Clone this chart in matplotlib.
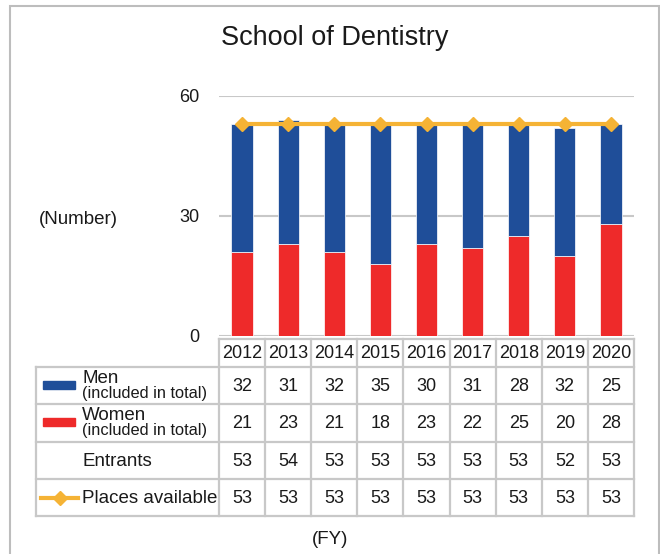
import matplotlib
matplotlib.use("Agg")
import matplotlib.pyplot as plt
from matplotlib.patches import Rectangle
from matplotlib.lines import Line2D

plt.rcParams['font.family'] = ['Liberation Sans', 'DejaVu Sans']

years = [2012, 2013, 2014, 2015, 2016, 2017, 2018, 2019, 2020]
men = [32, 31, 32, 35, 30, 31, 28, 32, 25]
women = [21, 23, 21, 18, 23, 22, 25, 20, 28]
entrants = [53, 54, 53, 53, 53, 53, 53, 52, 53]
places = [53, 53, 53, 53, 53, 53, 53, 53, 53]

blue = '#1f4e99'
red = '#ee2a2a'
orange = '#f5b335'
grey = '#c8c8c8'

W, H = 660, 554
fig = plt.figure(figsize=(W / 100, H / 100), dpi=100)

def box(l, t, r, b):
    return [l / W, 1 - b / H, (r - l) / W, (b - t) / H]

# outer frame (bottom edge runs off the canvas)
fig.patches.append(Rectangle((10 / W, -0.05), 649 / W, 1.05 - 6 / H,
                             transform=fig.transFigure, fill=False,
                             edgecolor='#bdbdbd', lw=1.5))

fig.text(335 / W, 1 - 38 / H, 'School of Dentistry', ha='center', va='center',
         fontsize=19.5, color='#1a1a1a')

# main chart
ax = fig.add_axes(box(219, 96, 634, 336))
x = range(len(years))
ax.bar(x, women, width=0.46, color=red, edgecolor='white', linewidth=0.5, zorder=2)
ax.bar(x, men, bottom=women, width=0.46, color=blue, edgecolor='white', linewidth=0.5, zorder=2)
ax.plot(x, places, color=orange, lw=3, marker='D', markersize=7, zorder=3)
ax.set_xlim(-0.5, len(years) - 0.5)
ax.set_ylim(0, 60)
ax.set_yticks([0, 30, 60])
ax.yaxis.grid(True, color=grey, lw=1.5, zorder=0)
ax.set_xticks([])
for s in ax.spines.values():
    s.set_visible(False)
ax.tick_params(axis='y', length=0, pad=14, labelsize=13, labelcolor='#1a1a1a')
fig.text(78 / W, 1 - 220 / H, '(Number)', ha='center', va='center',
         fontsize=13.5, color='#1a1a1a')

# data table
unit = 415 / len(years)
x0 = -0.5 - (219 - 36) / unit
tab = fig.add_axes(box(36, 339, 634, 516))
tab.set_xlim(x0, len(years) - 0.5)
tab.set_ylim(177, 0)
tab.axis('off')
rows = [0, 28, 65, 103, 140, 177]
lk = dict(color=grey, lw=1.6, clip_on=False)
tab.plot([-0.5, len(years) - 0.5], [0, 0], **lk)
for yb in rows[1:]:
    tab.plot([x0, len(years) - 0.5], [yb, yb], **lk)
tab.plot([x0, x0], [rows[1], rows[-1]], **lk)
for i in range(len(years) + 1):
    tab.plot([i - 0.5, i - 0.5], [0, rows[-1]], **lk)

tk = dict(ha='center', va='center', fontsize=13, color='#1a1a1a')
series = [men, women, entrants, places]
for i, yr in enumerate(years):
    tab.text(i, (rows[0] + rows[1]) / 2 + 1, str(yr), **tk)
    for r, vals in enumerate(series):
        tab.text(i, (rows[r + 1] + rows[r + 2]) / 2 + 1, str(vals[i]), **tk)

# row labels with legend keys
lx = x0 + (82 - 36) / unit
sw0 = x0 + (43 - 36) / unit
sw1 = x0 + (75 - 36) / unit
for r, (name, col) in enumerate([('Men', blue), ('Women', red)]):
    yc = (rows[r + 1] + rows[r + 2]) / 2
    tab.add_patch(Rectangle((sw0, yc - 5), sw1 - sw0, 8, color=col))
    tab.text(lx, yc - 7, name, ha='left', va='center', fontsize=13.5, color='#1a1a1a')
    tab.text(lx, yc + 8, '(included in total)', ha='left', va='center',
             fontsize=11.8, color='#1a1a1a')
tab.text(lx, (rows[3] + rows[4]) / 2 + 1, 'Entrants', ha='left', va='center',
         fontsize=13.5, color='#1a1a1a')
yc = (rows[4] + rows[5]) / 2
tab.add_line(Line2D([x0 + (41 - 36) / unit, x0 + (78 - 36) / unit], [yc, yc],
                    color=orange, lw=3))
tab.plot([x0 + (59.5 - 36) / unit], [yc], marker='D', markersize=7, color=orange)
tab.text(lx, yc + 1, 'Places available', ha='left', va='center',
         fontsize=13.5, color='#1a1a1a')

fig.text(330 / W, 1 - 540 / H, '(FY)', ha='center', va='center',
         fontsize=13.5, color='#1a1a1a')

fig.savefig('out.png', dpi=100)
